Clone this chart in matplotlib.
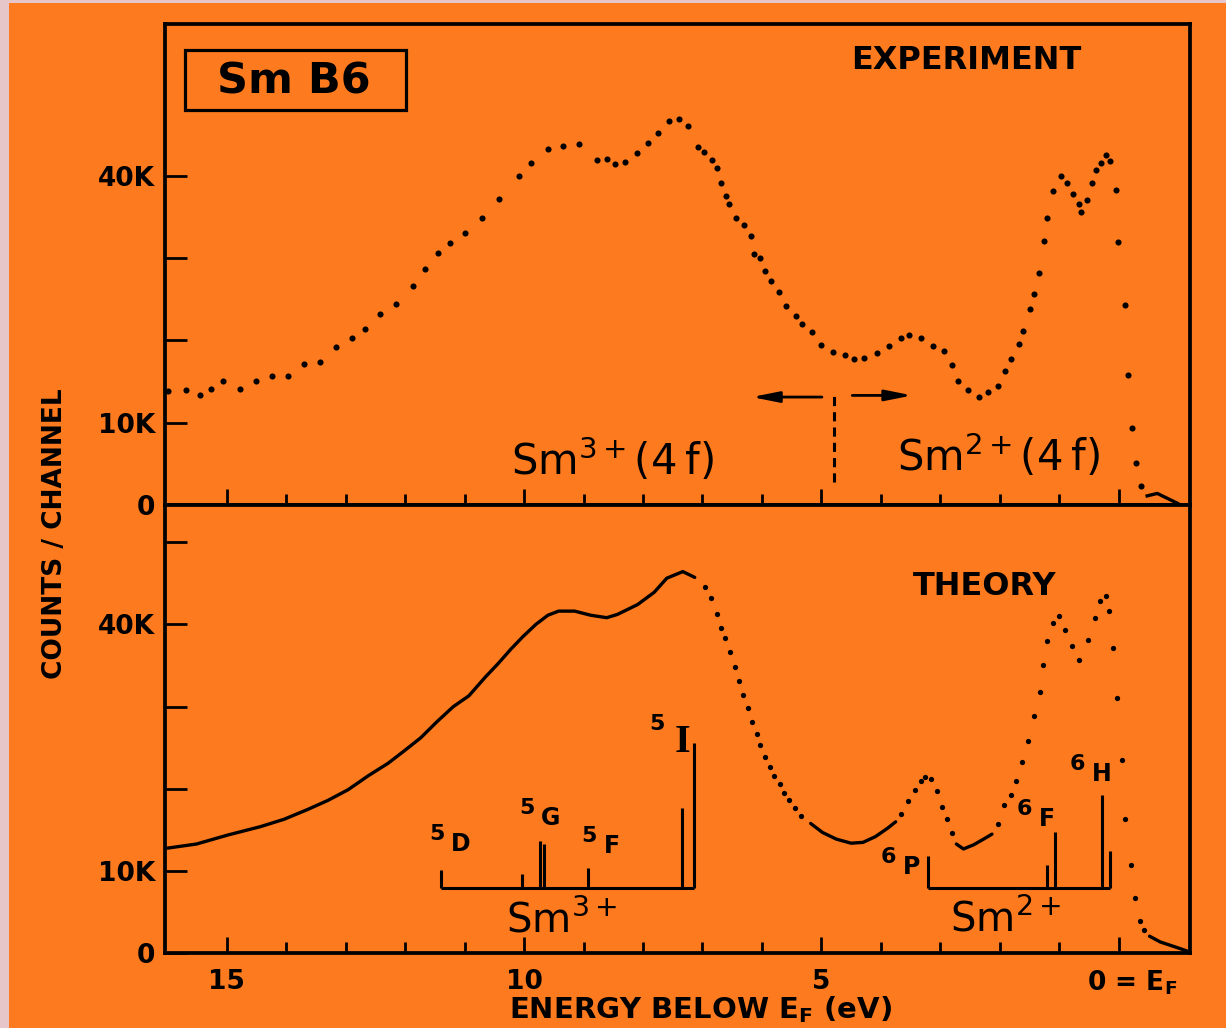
import numpy as np
import matplotlib.pyplot as plt
from matplotlib import font_manager
from matplotlib.patches import Rectangle

# ---- values: energy below E_F (eV), counts in thousands ----
exp_energy = [15.99, 15.68, 15.45, 15.26, 15.06, 14.78, 14.51, 14.24, 13.97, 13.71,
              13.44, 13.16, 12.89, 12.68, 12.43, 12.16, 11.87, 11.66, 11.45, 11.24,
              10.99, 10.71, 10.43, 10.09, 9.88, 9.60, 9.35, 9.08, 8.77, 8.60,
              8.47, 8.30, 8.10, 7.91, 7.74, 7.56, 7.39, 7.24, 7.08, 6.98,
              6.84, 6.76, 6.68, 6.61, 6.55, 6.43, 6.30, 6.19, 6.14, 6.04,
              5.94, 5.84, 5.72, 5.59, 5.42, 5.33, 5.16, 5.00, 4.80, 4.60,
              4.45, 4.28, 4.07, 3.87, 3.66, 3.53, 3.33, 3.13, 2.93, 2.80,
              2.70, 2.54, 2.34, 2.20, 2.03, 1.91, 1.81, 1.67, 1.60, 1.49,
              1.42, 1.34, 1.26, 1.20, 1.10, 0.97, 0.86, 0.76, 0.67, 0.63,
              0.53, 0.45, 0.38, 0.29, 0.21, 0.14, 0.05, 0.01, -0.10, -0.15,
              -0.23, -0.30, -0.37, -0.48, -0.65, -0.82, -0.99]
exp_counts = [13.8, 13.9, 13.3, 14.1, 15.1, 14.1, 15.1, 15.6, 15.6, 17.1,
              17.4, 19.2, 20.3, 21.4, 23.2, 24.4, 26.6, 28.7, 30.6, 31.8,
              33.0, 34.8, 37.1, 39.9, 41.5, 43.2, 43.6, 43.8, 41.9, 42.0,
              41.4, 41.6, 42.7, 43.9, 45.1, 46.6, 46.9, 46.0, 43.5, 42.9,
              41.9, 40.9, 39.1, 37.5, 36.5, 34.8, 34.0, 32.6, 30.5, 30.0,
              28.4, 27.2, 25.9, 24.1, 22.9, 22.0, 21.0, 19.4, 18.6, 18.2,
              17.7, 17.9, 18.5, 19.3, 20.3, 20.6, 20.3, 19.3, 18.7, 17.0,
              15.1, 13.9, 13.1, 13.7, 14.4, 16.3, 17.7, 19.5, 21.1, 23.8,
              25.6, 28.2, 32.0, 34.9, 38.1, 39.9, 39.1, 37.7, 36.5, 35.6,
              37.0, 39.1, 40.7, 41.5, 42.5, 41.7, 38.3, 31.9, 24.3, 15.8,
              9.4, 5.1, 2.3, 1.1, 1.4, 0.8, 0.2]

theory_energy = [16.00, 15.51, 14.98, 14.44, 14.04, 13.64, 13.30, 12.96, 12.62, 12.29,
                 12.02, 11.74, 11.46, 11.19, 10.93, 10.65, 10.44, 10.22, 10.02, 9.80,
                 9.60, 9.42, 9.15, 8.88, 8.61, 8.43, 8.09, 7.81, 7.60, 7.33,
                 7.13, 6.96, 6.85, 6.76, 6.68, 6.62, 6.54, 6.46, 6.38, 6.31,
                 6.24, 6.17, 6.09, 6.03, 5.95, 5.87, 5.80, 5.70, 5.62, 5.54,
                 5.45, 5.35, 5.18, 4.98, 4.75, 4.50, 4.30, 4.09, 3.89, 3.75,
                 3.66, 3.54, 3.43, 3.33, 3.26, 3.16, 3.06, 2.97, 2.89, 2.81,
                 2.73, 2.61, 2.44, 2.27, 2.13, 2.03, 1.92, 1.81, 1.72, 1.63,
                 1.52, 1.42, 1.33, 1.27, 1.20, 1.11, 1.01, 0.91, 0.78, 0.66,
                 0.51, 0.40, 0.31, 0.22, 0.16, 0.09, 0.03, -0.06, -0.11, -0.20,
                 -0.28, -0.36, -0.42, -0.52, -0.70, -0.95, -1.15]
theory_counts = [12.8, 13.3, 14.4, 15.4, 16.3, 17.5, 18.6, 19.9, 21.6, 23.1,
                 24.6, 26.2, 28.2, 30.0, 31.3, 33.6, 35.2, 37.0, 38.5, 40.0,
                 41.1, 41.6, 41.6, 41.1, 40.8, 41.2, 42.4, 43.9, 45.6, 46.4,
                 45.7, 44.5, 43.2, 41.3, 39.6, 38.3, 36.6, 34.8, 33.1, 31.4,
                 29.8, 28.1, 26.7, 25.3, 23.9, 22.7, 21.6, 20.6, 19.5, 18.7,
                 17.7, 16.7, 15.8, 14.7, 13.9, 13.4, 13.5, 14.2, 15.2, 16.0,
                 17.0, 18.5, 19.9, 20.9, 21.5, 21.2, 19.7, 17.8, 16.3, 14.6,
                 13.3, 12.7, 13.2, 13.9, 14.5, 15.7, 18.0, 19.3, 21.0, 23.3,
                 25.8, 28.8, 31.8, 35.0, 38.0, 40.2, 41.0, 39.3, 37.4, 35.7,
                 38.1, 40.8, 42.8, 43.4, 41.6, 37.1, 31.0, 23.5, 16.4, 10.8,
                 6.7, 4.0, 2.8, 2.1, 1.4, 0.8, 0.3]

# multiplet bars (energy, top of bar), bars stand on a common base line
sm3_energy = [11.40, 10.04, 9.73, 9.66, 8.92, 7.34, 7.15]
sm3_top = [10.1, 9.6, 13.7, 13.3, 10.4, 17.7, 25.6]
sm2_energy = [3.21, 1.21, 1.07, 0.28, 0.15]
sm2_top = [11.8, 10.7, 14.8, 19.3, 12.5]
multiplet_base = 8.0

x_ticks = [0, 5, 10, 15]
x_labels = ["", "5", "10", "15"]
y_ticks_top = [0, 10, 20, 30, 40]
y_labels_top = ["0", "10K", "", "", "40K"]
y_ticks_bot = [0, 10, 20, 30, 40, 50]
y_labels_bot = ["0", "10K", "", "", "40K", ""]

ORANGE = "#fe7a1e"
PINK = "#e6c6c8"


def style_axes(ax, ytop, yticks, ylabels):
    ax.set_facecolor(ORANGE)
    ax.set_xlim(16.04, -1.2)
    ax.set_ylim(0, ytop)
    for sp in ax.spines.values():
        sp.set_linewidth(2.7)
    ax.set_xticks(x_ticks)
    ax.set_xticks([v for v in range(1, 16) if v not in x_ticks], minor=True)
    ax.set_yticks(yticks)
    ax.set_yticklabels(ylabels)
    ax.tick_params(axis="x", which="major", direction="in", length=11.5, width=2,
                   top=False, pad=11, labelsize=19)
    ax.tick_params(axis="x", which="minor", direction="in", length=8, width=2, top=False)
    ax.tick_params(axis="y", direction="in", length=16, width=2, right=False,
                   pad=7, labelsize=19)
    for lab in ax.get_yticklabels() + ax.get_xticklabels():
        lab.set_fontweight("bold")


fig = plt.figure(figsize=(12.26, 10.28), dpi=100, facecolor=ORANGE)
fig.add_artist(Rectangle((0, 0), 9 / 1226, 1, transform=fig.transFigure,
                         color=PINK, lw=0))
fig.add_artist(Rectangle((0, 1 - 3 / 1028), 1, 3 / 1028, transform=fig.transFigure,
                         color=PINK, lw=0))

ax_top = fig.add_axes([0.1346, 0.5088, 0.836, 0.4679])
ax_bot = fig.add_axes([0.1346, 0.0725, 0.836, 0.4363])
style_axes(ax_top, 58.4, y_ticks_top, y_labels_top)
style_axes(ax_bot, 54.5, y_ticks_bot, y_labels_bot)
ax_top.tick_params(axis="x", labelbottom=False)
ax_bot.set_xticklabels(x_labels)
for lab in ax_bot.get_xticklabels():
    lab.set_fontweight("bold")

# ---- experiment ----
e_exp = np.array(exp_energy)
c_exp = np.array(exp_counts)
tail = e_exp <= -0.45
ax_top.plot(e_exp[~tail], c_exp[~tail], "o", color="black", ms=4.4, mec="none")
ax_top.plot(e_exp[tail], c_exp[tail], "-", color="black", lw=2.4)

# ---- theory: dense stretches show as a solid trace, steep ones as dots ----
e_th = np.array(theory_energy)
c_th = np.array(theory_counts)
solid_spans = [(7.1, 16.1), (3.7, 5.25), (2.1, 2.75), (-1.2, -0.45)]
solid = np.zeros(len(e_th), dtype=bool)
for lo, hi in solid_spans:
    m = (e_th >= lo) & (e_th <= hi)
    solid |= m
    ax_bot.plot(e_th[m], c_th[m], "-", color="black", lw=2.4, solid_capstyle="round")
ax_bot.plot(e_th[~solid], c_th[~solid], "o", color="black", ms=3.8, mec="none")

# ---- multiplet bars ----
for en, top in ((sm3_energy, sm3_top), (sm2_energy, sm2_top)):
    ax_bot.vlines(en, multiplet_base, top, color="black", lw=2.2)
    ax_bot.hlines(multiplet_base, min(en), max(en), color="black", lw=2.2)


def term(ax, x, y, mult, letter, size=16):
    ax.text(x, y, mult, fontsize=size, fontweight="bold", ha="left", va="baseline")
    ax.annotate(letter, xy=(x, y), xytext=(16, -8), textcoords="offset points",
                fontsize=size + 1, fontweight="bold", ha="left", va="baseline")


term(ax_bot, 11.60, 13.8, "5", "D")
term(ax_bot, 10.09, 17.0, "5", "G")
term(ax_bot, 9.04, 13.5, "5", "F")
term(ax_bot, 4.00, 11.0, "6", "P")
term(ax_bot, 1.72, 16.8, "6", "F")
term(ax_bot, 0.82, 22.3, "6", "H")
ax_bot.text(7.89, 27.2, "5", fontsize=16, fontweight="bold", ha="left", va="baseline")
ax_bot.text(7.47, 24.5, "I", fontsize=29, fontweight="bold", ha="left", va="baseline",
            family=["Liberation Serif", "DejaVu Serif"])

ax_bot.text(10.31, 2.6, "Sm$^{3+}$", fontsize=29, ha="left", va="baseline")
ax_bot.text(2.84, 2.7, "Sm$^{2+}$", fontsize=29, ha="left", va="baseline")

# ---- top panel annotations ----
ax_top.text(10.22, 3.6, "Sm$^{3+}$(4\u2009f)", fontsize=30, ha="left", va="baseline")
ax_top.text(3.73, 4.1, "Sm$^{2+}$(4\u2009f)", fontsize=30, ha="left", va="baseline")
ax_top.plot([4.79, 4.79], [2.8, 13.3], color="black", lw=2.2, ls=(0, (3, 2)))
arrow = dict(arrowstyle="-|>,head_length=0.9,head_width=0.18", color="black", lw=2,
             mutation_scale=18, shrinkA=0, shrinkB=0)
ax_top.annotate("", xy=(6.17, 13.1), xytext=(4.99, 13.1), arrowprops=arrow)
ax_top.annotate("", xy=(3.47, 13.3), xytext=(4.48, 13.3), arrowprops=arrow)

fig.add_artist(Rectangle((185 / 1226, 1 - 110 / 1028), 221 / 1226, 60 / 1028,
                         transform=fig.transFigure, fill=False, ec="black", lw=2.3))
fig.text(294 / 1226, 1 - 94 / 1028, "Sm B6", fontsize=31, fontweight="bold",
         ha="center", va="baseline")
fig.text(966 / 1226, 1 - 69 / 1028, "EXPERIMENT", fontsize=23, fontweight="bold",
         ha="center", va="baseline")
fig.text(985 / 1226, 1 - 595 / 1028, "THEORY", fontsize=23, fontweight="bold",
         ha="center", va="baseline")

# ---- axis labels ----
ax_bot.text(0.54, -0.034, r"0 = $\mathbf{E}_\mathbf{F}$", fontsize=19, fontweight="bold",
            ha="left", va="top", transform=ax_bot.get_xaxis_transform())
fig.text(700 / 1226, 1 - 1018 / 1028, r"ENERGY BELOW $\mathbf{E}_\mathbf{F}$ (eV)",
         fontsize=21, fontweight="bold", ha="center", va="baseline")

installed = {f.name for f in font_manager.fontManager.ttflist}
if "Liberation Sans Narrow" in installed:
    fig.text(58 / 1226, 1 - 534 / 1028, "COUNTS / CHANNEL", rotation=90, fontsize=24,
             fontweight="bold", family="Liberation Sans Narrow", ha="center", va="center")
else:
    fig.text(55 / 1226, 1 - 534 / 1028, "COUNTS / CHANNEL", rotation=90, fontsize=19,
             fontweight="bold", ha="center", va="center")

fig.savefig("out.png", dpi=100, facecolor=ORANGE)
